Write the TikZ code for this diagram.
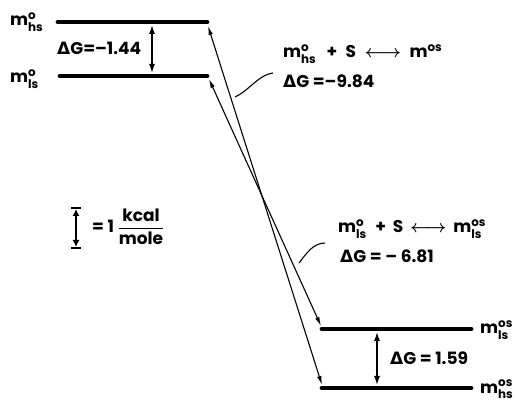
\documentclass[tikz,border=0pt]{standalone}
\usepackage{fontspec}
\usepackage{amsmath}
\setmainfont{Poppins}
\newfontfamily\grkfont{DejaVu Sans}
\usetikzlibrary{arrows.meta}
\newcommand\Dl{{\grkfont\bfseries Δ}}
\newcommand\lev[2]{$\text{m}^{\text{#1}}_{\text{#2}}$}
\newcommand\lrarr{$\boldsymbol{\longleftrightarrow}$}
\begin{document}
\begin{tikzpicture}[x=1pt,y=-1pt,
  level/.style={line width=4.8pt, line cap=round},
  gap/.style={line width=1.4pt, {Latex[length=9pt,width=6pt]}-{Latex[length=9pt,width=6pt]}},
  diag/.style={line width=1.1pt, {Latex[length=9pt,width=4.5pt]}-{Latex[length=9pt,width=4.5pt]}},
  lbl/.style={anchor=base west, inner sep=0pt, font=\fontsize{17}{19}\selectfont\bfseries},
  lead/.style={line width=1.1pt}]
\path[use as bounding box] (0,0) rectangle (517,403);
% level end points
\coordinate (hsTL) at (58,22);  \coordinate (hsTR) at (207,22);
\coordinate (lsTL) at (60,76);  \coordinate (lsTR) at (207,76);
\coordinate (lsBL) at (322,329); \coordinate (lsBR) at (471,329);
\coordinate (hsBL) at (322,388); \coordinate (hsBR) at (471,388);
\draw[level] (hsTL) -- (hsTR);
\draw[level] (lsTL) -- (lsTR);
\draw[level] (lsBL) -- (lsBR);
\draw[level] (hsBL) -- (hsBR);
% gap arrows
\coordinate (g1a) at (152,25); \coordinate (g1b) at (152,73);
\coordinate (g2a) at (377,332); \coordinate (g2b) at (377,385);
\draw[gap] (g1a) -- (g1b);
\draw[gap] (g2a) -- (g2b);
% diagonal arrows
\coordinate (d1a) at (208,26); \coordinate (d1b) at (322,385);
\coordinate (d2a) at (209,79); \coordinate (d2b) at (321,326);
\draw[diag] (d1a) -- (d1b);
\draw[diag] (d2a) -- (d2b);
% leaders
\coordinate (c1a) at (235,97); \coordinate (c1b) at (273,73);
\coordinate (c2a) at (299,263); \coordinate (c2b) at (325,243);
\draw[lead] (c1a) .. controls (250,90) and (258,75) .. (c1b);
\draw[lead] (c2a) .. controls (306,254) and (313,243) .. (c2b);
% scale legend
\coordinate (ua) at (76,209); \coordinate (ub) at (76,247);
\draw[line width=1.2pt, {Latex[length=7pt,width=7pt]}-{Latex[length=7pt,width=7pt]}] (ua) -- (ub);
\draw[line width=2pt] (71,208) -- (81,208);
\draw[line width=2pt] (71,248) -- (81,248);
% labels
\node[lbl] (Lhs) at (10,26) {\lev{o}{hs}};
\node[lbl] (Lls) at (10,83) {\lev{o}{ls}};
\node[lbl] (Rls) at (480,334) {\lev{os}{ls}};
\node[lbl] (Rhs) at (480,393) {\lev{os}{hs}};
\node[lbl] (t1) at (57,55) {\Dl G=–1.44};
\node[lbl] (e1) at (283,58) {\lev{o}{hs}\hspace{0.6em}+\hspace{0.5em}S\hspace{0.5em}\lrarr\hspace{0.5em}m$^{\text{os}}$};
\node[lbl] (t2) at (283,88) {\Dl G =–9.84};
\node[lbl] (e2) at (338,233) {\lev{o}{ls}\hspace{0.5em}+\hspace{0.4em}S\hspace{0.4em}\lrarr\hspace{0.4em}\lev{os}{ls}};
\node[lbl] (t3) at (340,263) {\Dl G = – 6.81};
\node[lbl] (t4) at (390,365) {\Dl G = 1.59};
\node[lbl] (unit) at (92,233) {= 1 $\dfrac{\text{kcal}}{\text{mole}}$};
\end{tikzpicture}
\end{document}
